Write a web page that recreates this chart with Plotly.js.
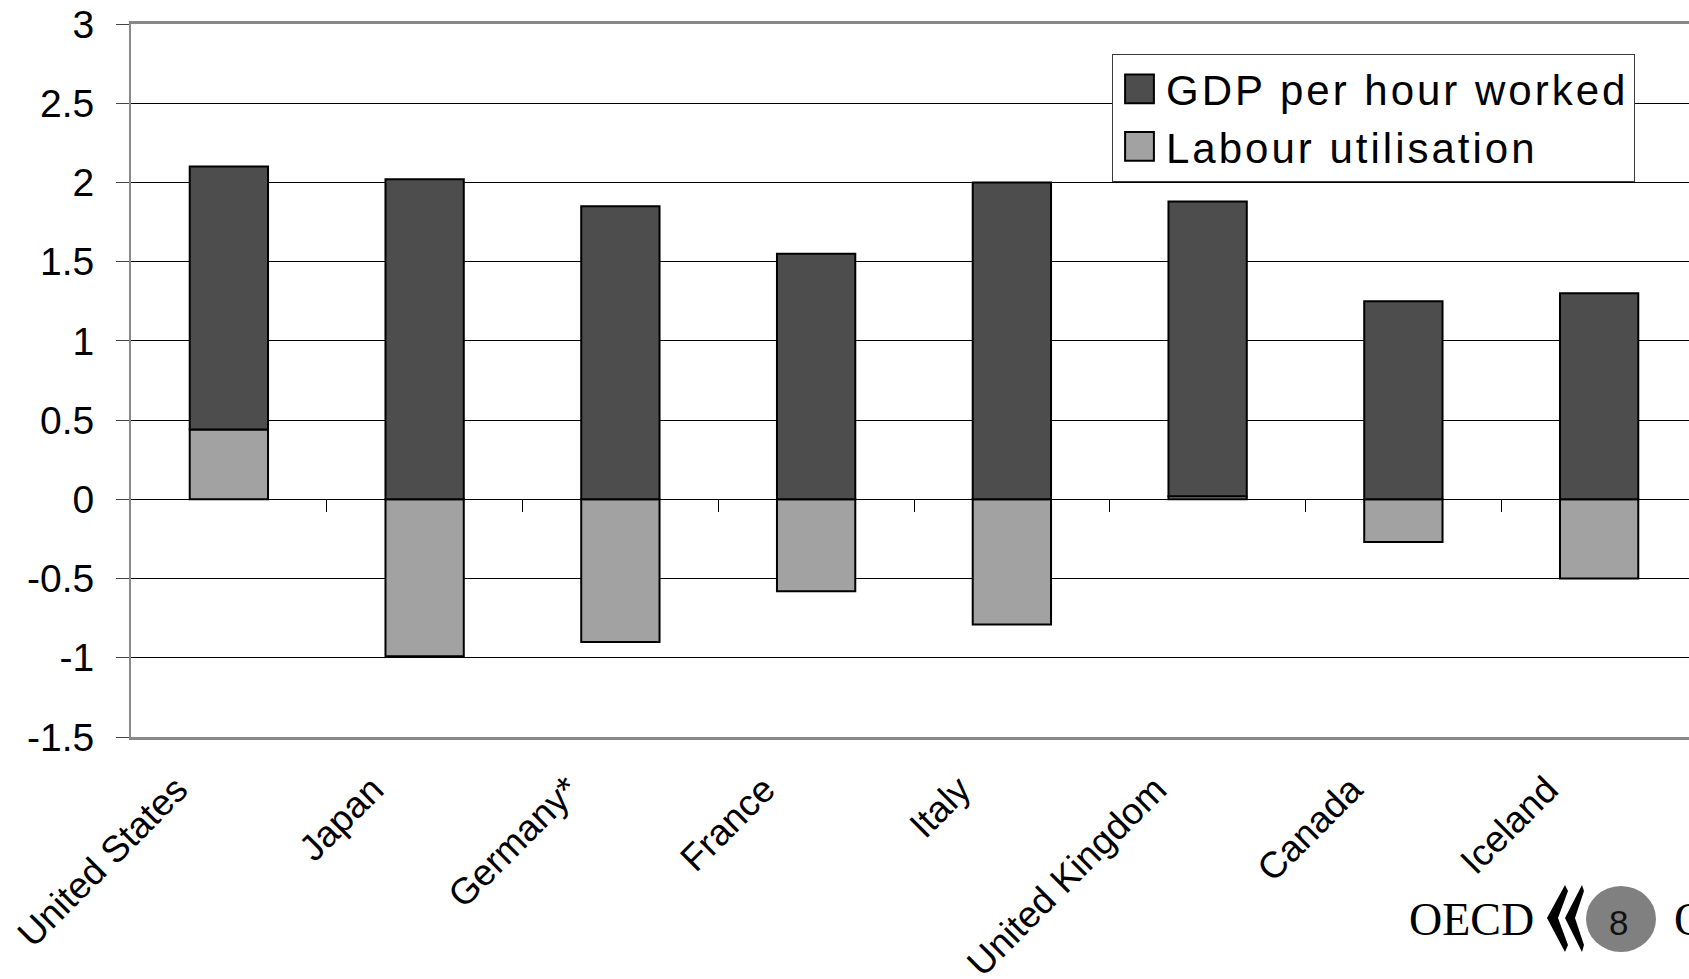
<!DOCTYPE html>
<html>
<head>
<meta charset="utf-8">
<script src="https://cdn.plot.ly/plotly-3.0.1.min.js"></script>
<style>
  html, body { margin: 0; padding: 0; background: #ffffff; overflow: hidden; }
  #chart { width: 1700px; height: 979px; }
</style>
</head>
<body>
<div id="chart"></div>
<script>
// ---- data ----
const categories = ['United States', 'Japan', 'Germany*', 'France', 'Italy', 'United Kingdom', 'Canada', 'Iceland'];
const gdpPerHourWorked = [1.66, 2.02, 1.85, 1.55, 2.00, 1.86, 1.25, 1.30];
const labourUtilisation = [0.44, -0.99, -0.90, -0.58, -0.79, 0.02, -0.27, -0.50];
const seriesNames = ['GDP per hour worked', 'Labour utilisation'];
const yTickVals = [-1.5, -1, -0.5, 0, 0.5, 1, 1.5, 2, 2.5, 3];
const yTickText = ['-1.5', '-1', '-0.5', '0', '0.5', '1', '1.5', '2', '2.5', '3'];
const boundaryTicks = [0.5, 1.5, 2.5, 3.5, 4.5, 5.5, 6.5, 7.5];

// ---- layout geometry (pixels) ----
const W = 1700, H = 979;
const M = { l: 131, r: 3, t: 24, b: 242 };
const PW = W - M.l - M.r, PH = H - M.t - M.b;
const PB = H - M.b;
function pp(x, y) { return [(x - M.l) / PW, (PB - y) / PH]; }
function pathFrom(points) {
  return points.map((p, i) => { const q = pp(p[0], p[1]); return (i ? 'L' : 'M') + q[0].toFixed(5) + ',' + q[1].toFixed(5); }).join(' ') + ' Z';
}
function spaced(t, px) { return '<span style="letter-spacing:' + px + 'px">' + t + '</span>'; }

const FONT = '"Liberation Sans", Arial, sans-serif';
const SERIF = '"Liberation Serif", "Times New Roman", serif';

const traces = [
  {
    type: 'bar', name: spaced(seriesNames[1], 3), x: categories, y: labourUtilisation,
    marker: { color: '#a2a2a2', line: { color: '#000000', width: 2 } }
  },
  {
    type: 'bar', name: spaced(seriesNames[0], 3), x: categories, y: gdpPerHourWorked,
    marker: { color: '#4d4d4d', line: { color: '#000000', width: 2 } }
  },
  // empty helper trace so the overlaid tick axis (category boundaries at y = 0) is drawn
  { type: 'scatter', mode: 'lines', x: [], y: [], xaxis: 'x2', yaxis: 'y', showlegend: false, hoverinfo: 'skip' }
];

const circ = pp(1621, 919);
const logoShapes = [
  { type: 'path', xref: 'paper', yref: 'paper', fillcolor: '#000000', line: { width: 0 },
    path: pathFrom([[1565, 885], [1547, 918], [1565, 952], [1568, 945], [1558, 918], [1568, 891]]) },
  { type: 'path', xref: 'paper', yref: 'paper', fillcolor: '#000000', line: { width: 0 },
    path: pathFrom([[1582, 885], [1565, 918], [1582, 952], [1584, 945], [1575, 918], [1584, 891]]) },
  { type: 'circle', xref: 'paper', yref: 'paper', xsizemode: 'pixel', ysizemode: 'pixel',
    xanchor: circ[0], yanchor: circ[1], x0: -35, x1: 35, y0: -33, y1: 33,
    fillcolor: '#808080', line: { width: 0 } }
];

const oecd = pp(1471, 919);
const eight = pp(1618, 922);
const oStart = pp(1672, 919);

const layout = {
  width: W, height: H,
  margin: M,
  paper_bgcolor: '#ffffff', plot_bgcolor: '#ffffff',
  barmode: 'relative',
  bargap: 0.6,
  showlegend: true,
  legend: {
    x: pp(1112, 54)[0], y: pp(1112, 54)[1], xanchor: 'left', yanchor: 'top',
    traceorder: 'reversed', itemwidth: 43,
    bgcolor: '#ffffff', bordercolor: '#3a3a3a', borderwidth: 1,
    font: { family: FONT, size: 42, color: '#000000' }
  },
  xaxis: {
    type: 'category', categoryorder: 'array', categoryarray: categories,
    range: [-0.5, 7.5],
    showgrid: false, zeroline: false,
    showline: true, linecolor: '#888888', linewidth: 3, mirror: true,
    ticks: '', tickangle: -45,
    ticklabelstandoff: 13, ticklabelshift: -52,
    tickfont: { family: FONT, size: 37, color: '#000000' }
  },
  xaxis2: {
    overlaying: 'x', anchor: 'free', position: 1.5 / 4.5,
    type: 'linear', range: [-0.5, 7.5],
    tickmode: 'array', tickvals: boundaryTicks,
    ticks: 'outside', ticklen: 12, tickwidth: 1, tickcolor: '#000000',
    showticklabels: false, showgrid: false, zeroline: false, showline: false
  },
  yaxis: {
    range: [-1.5, 3],
    tickmode: 'array', tickvals: yTickVals, ticktext: yTickText,
    showgrid: true, gridcolor: '#000000', gridwidth: 1,
    zeroline: true, zerolinecolor: '#000000', zerolinewidth: 1,
    showline: true, linecolor: '#8a8a8a', linewidth: 2,
    ticks: 'outside', ticklen: 13, tickwidth: 1, tickcolor: '#444444',
    ticklabelstandoff: 14,
    tickfont: { family: FONT, size: 39, color: '#000000' }
  },
  shapes: logoShapes,
  annotations: [
    { xref: 'paper', yref: 'paper', x: oecd[0], y: oecd[1], xanchor: 'center', yanchor: 'middle',
      text: 'OECD', showarrow: false, font: { family: SERIF, size: 46, color: '#000000' } },
    { xref: 'paper', yref: 'paper', x: eight[0], y: eight[1], xanchor: 'center', yanchor: 'middle',
      text: '8', showarrow: false, font: { family: FONT, size: 35, color: '#111111' } },
    { xref: 'paper', yref: 'paper', x: oStart[0], y: oStart[1], xanchor: 'left', yanchor: 'middle',
      text: 'O', showarrow: false, font: { family: SERIF, size: 46, color: '#000000' } }
  ]
};

Plotly.newPlot('chart', traces, layout, { displayModeBar: false, staticPlot: true }).then(function () {
  document.querySelectorAll('#chart .legend .legendpoints path').forEach(function (p) {
    const t = p.getAttribute('transform') || '';
    p.setAttribute('transform', t + ' scale(2.4)');
    p.style.vectorEffect = 'non-scaling-stroke';
  });
});
</script>
</body>
</html>
